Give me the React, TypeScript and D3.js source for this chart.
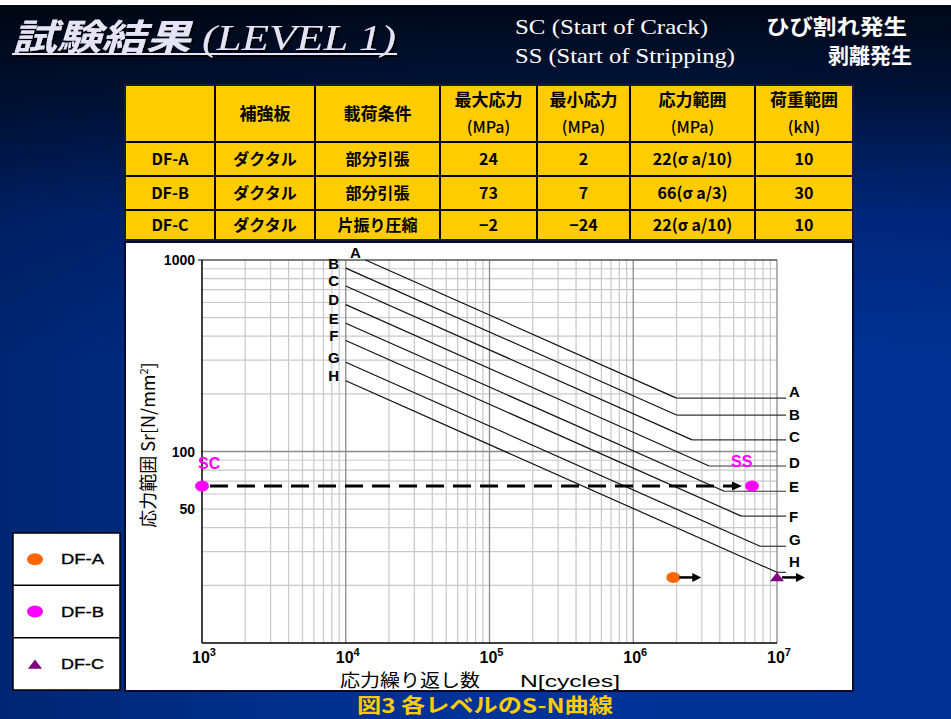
import React from 'react';
import * as d3 from 'd3';

const W = 951;
const H = 719;

// S-N curve classes (JSSC): fatigue strength at 2e6 cycles & cut-off limits [N/mm2]
const curveNames = ['A', 'B', 'C', 'D', 'E', 'F', 'G', 'H'];
const strengthAt2e6 = [190, 155, 125, 100, 80, 65, 50, 40];
const cutoffLimit = [190, 155, 115, 84, 62, 46, 32, 23];
const rightLabelDy = [-7, 0, -3, -3, -5, 1, -7, -11];

// test results
const seriesNames = ['DF-A', 'DF-B', 'DF-C'];
const seriesColors = ['#FF6600', '#FF00FF', '#800080'];
const seriesStress = [22, 66, 22];
const seriesCycles = [1.9e6, 6.7e6, 1e7];
const dfbCrackCycles = 1e3;

const xTickValues = [1e3, 1e4, 1e5, 1e6, 1e7];
const xTickExp = ['3', '4', '5', '6', '7'];
const yTickValues = [1000, 100, 50];

const tableHeader = [
  ['', ''],
  ['補強板', ''],
  ['載荷条件', ''],
  ['最大応力', '(MPa)'],
  ['最小応力', '(MPa)'],
  ['応力範囲', '(MPa)'],
  ['荷重範囲', '(kN)'],
];
const tableRows = [
  ['DF-A', 'ダクタル', '部分引張', '24', '2', '22(σ a/10)', '10'],
  ['DF-B', 'ダクタル', '部分引張', '73', '7', '66(σ a/3)', '30'],
  ['DF-C', 'ダクタル', '片振り圧縮', '−2', '−24', '22(σ a/10)', '10'],
];

const colEdges = [125, 215, 315, 440, 537, 630, 755, 853];
const rowEdges = [85, 142, 176, 210, 240];

const JP = "'Noto Sans CJK JP', 'Noto Sans', sans-serif";
const SANS = "'Liberation Sans', Arial, sans-serif";
const SERIF = "'Liberation Serif', 'DejaVu Serif', serif";

export default function App() {
  const x = d3.scaleLog().domain([1e3, 1e7]).range([202, 777]);
  const y = d3.scaleLog().domain([10, 1000]).range([643, 260]);

  const xMinor: number[] = [];
  for (let e = 3; e < 7; e++) for (let k = 2; k <= 9; k++) xMinor.push(k * Math.pow(10, e));
  const yMinor: number[] = [];
  for (let e = 1; e < 3; e++) for (let k = 2; k <= 9; k++) yMinor.push(k * Math.pow(10, e));

  const line = d3.line<[number, number]>().x((d) => x(d[0])).y((d) => y(d[1]));
  const xEnd = x(1e7) + 9;

  const curves = curveNames.map((name, i) => {
    const s2 = strengthAt2e6[i];
    const nTop = 2e6 * Math.pow(s2 / 1000, 3);
    const n0 = Math.max(1e4, nTop);
    const s0 = s2 * Math.pow(2e6 / n0, 1 / 3);
    let nc = 2e6 * Math.pow(s2 / cutoffLimit[i], 3);
    let sc = cutoffLimit[i];
    if (nc > 1e7) {
      nc = 1e7;
      sc = s2 * Math.pow(2e6 / 1e7, 1 / 3);
    }
    return { name, n0, s0, nc, sc, i };
  });

  const arrow = (x1: number, x2: number, yy: number, w = 2.5, head = 9) => (
    <g>
      <line x1={x1} x2={x2 - head + 1} y1={yy} y2={yy} stroke="#000" strokeWidth={w} />
      <path d={`M${x2 - head},${yy - 4.5}L${x2},${yy}L${x2 - head},${yy + 4.5}Z`} fill="#000" />
    </g>
  );

  const tri = (cx: number, cy: number, s: number) =>
    `M${cx},${cy - s * 0.75}L${cx + s},${cy + s * 0.55}L${cx - s},${cy + s * 0.55}Z`;

  return (
    <div style={{ position: 'absolute', left: 0, top: 0, width: W, height: H }}>
      <svg width={W} height={H} style={{ display: 'block' }}>
        <defs>
          <linearGradient id="bg" x1="0" y1="0" x2="0" y2="1">
            <stop offset="0" stopColor="#000816" />
            <stop offset="0.12" stopColor="#001238" />
            <stop offset="0.3" stopColor="#002880" />
            <stop offset="0.5" stopColor="#003399" />
            <stop offset="1" stopColor="#003399" />
          </linearGradient>
          <linearGradient id="bgh" x1="0" y1="0" x2="1" y2="0">
            <stop offset="0" stopColor="#000000" stopOpacity="0.25" />
            <stop offset="0.5" stopColor="#000000" stopOpacity="0" />
            <stop offset="1" stopColor="#000000" stopOpacity="0.05" />
          </linearGradient>
          <filter id="shadow" x="-5%" y="-20%" width="110%" height="140%">
            <feDropShadow dx="2" dy="2" stdDeviation="0.6" floodColor="#000" floodOpacity="1" />
          </filter>
        </defs>
        <rect x={0} y={0} width={W} height={H} fill="url(#bg)" />
        <rect x={0} y={0} width={W} height={H} fill="url(#bgh)" />
        <rect x={0} y={0} width={W} height={5} fill="#fff" />

        {/* Title */}
        <g filter="url(#shadow)">
          <text x={12} y={50} fontSize={36} fontStyle="italic" fill="#E4E4F8" textLength={384} lengthAdjust="spacingAndGlyphs">
            <tspan fontFamily={JP} fontWeight={700}>試験結果</tspan>
            <tspan fontFamily={SERIF}> (LEVEL 1)</tspan>
          </text>
          <line x1={12} x2={397} y1={54} y2={54} stroke="#E4E4F8" strokeWidth={2} />
        </g>
        <text x={515} y={34} fontSize={21} fontFamily={SERIF} fill="#fff" textLength={193} lengthAdjust="spacingAndGlyphs">SC (Start of Crack)</text>
        <text x={515} y={63} fontSize={21} fontFamily={SERIF} fill="#fff" textLength={220} lengthAdjust="spacingAndGlyphs">SS (Start of Stripping)</text>
        <text x={766} y={34} fontSize={21} fontFamily={JP} fontWeight={700} fill="#fff" textLength={141} lengthAdjust="spacingAndGlyphs">ひび割れ発生</text>
        <text x={912} y={63} fontSize={21} fontFamily={JP} fontWeight={700} fill="#fff" textAnchor="end">剥離発生</text>

        {/* Table */}
        <g>
          <rect x={colEdges[0]} y={rowEdges[0]} width={colEdges[7] - colEdges[0]} height={rowEdges[4] - rowEdges[0]} fill="#FFCC00" stroke="#1a1a40" strokeWidth={2} />
          {colEdges.slice(1, -1).map((cx) => (
            <line key={cx} x1={cx} x2={cx} y1={rowEdges[0]} y2={rowEdges[4]} stroke="#000" strokeWidth={2} />
          ))}
          {rowEdges.slice(1, -1).map((ry) => (
            <line key={ry} x1={colEdges[0]} x2={colEdges[7]} y1={ry} y2={ry} stroke="#000" strokeWidth={2} />
          ))}
          {tableHeader.map((h, c) => {
            const cx = (colEdges[c] + colEdges[c + 1]) / 2;
            const cy = (rowEdges[0] + rowEdges[1]) / 2;
            return h[1] ? (
              <g key={c} fontFamily={JP} fill="#000" textAnchor="middle">
                <text x={cx} y={cy - 8} fontSize={17} fontWeight={700}>{h[0]}</text>
                <text x={cx} y={cy + 19} fontSize={16} fontWeight={500}>{h[1]}</text>
              </g>
            ) : (
              <text key={c} x={cx} y={cy + 6} fontSize={17} fontFamily={JP} fontWeight={700} textAnchor="middle">{h[0]}</text>
            );
          })}
          {tableRows.map((row, r) =>
            row.map((cell, c) => (
              <text
                key={`${r}-${c}`}
                x={(colEdges[c] + colEdges[c + 1]) / 2}
                y={(rowEdges[r + 1] + rowEdges[r + 2]) / 2 + 6}
                fontSize={16}
                fontFamily={JP}
                fontWeight={700}
                textAnchor="middle"
                fill="#000"
              >
                {cell}
              </text>
            ))
          )}
        </g>

        {/* Chart panel */}
        <rect x={125} y={242} width={728} height={449} fill="#fff" stroke="#0a0a30" strokeWidth={2} />

        {/* grid */}
        <g>
          {xMinor.map((v) => (
            <line key={`xm${v}`} x1={x(v)} x2={x(v)} y1={y(1000)} y2={y(10)} stroke="#c8c8c8" strokeWidth={1.2} />
          ))}
          {yMinor.map((v) => (
            <line key={`ym${v}`} x1={x(1e3)} x2={x(1e7)} y1={y(v)} y2={y(v)} stroke="#c8c8c8" strokeWidth={1.2} />
          ))}
          {[1e4, 1e5, 1e6, 1e7].map((v) => (
            <line key={`xM${v}`} x1={x(v)} x2={x(v)} y1={y(1000)} y2={y(10)} stroke="#8c8c8c" strokeWidth={1.3} />
          ))}
          <line x1={x(1e3)} x2={x(1e7)} y1={y(100)} y2={y(100)} stroke="#8c8c8c" strokeWidth={1.3} />
          <line x1={x(1e3) - 4} x2={x(1e7)} y1={y(1000)} y2={y(1000)} stroke="#555" strokeWidth={1.3} />
          <line x1={x(1e3)} x2={x(1e3)} y1={y(1000)} y2={y(10)} stroke="#000" strokeWidth={1.5} />
          <line x1={x(1e3)} x2={x(1e7)} y1={y(10)} y2={y(10)} stroke="#000" strokeWidth={1.5} />
        </g>

        {/* y ticks */}
        {yTickValues.map((v) => (
          <text key={v} x={x(1e3) - 7} y={y(v) + 5} fontSize={14} fontFamily={SANS} fontWeight={700} textAnchor="end">{v}</text>
        ))}
        {/* x ticks */}
        {xTickValues.map((v, i) => (
          <text key={v} x={x(v) - 10} y={663} fontFamily={SANS} fontWeight={700}>
            <tspan fontSize={16}>10</tspan>
            <tspan fontSize={11} dy={-7}>{xTickExp[i]}</tspan>
          </text>
        ))}

        {/* axis titles */}
        <text transform="translate(155,445) rotate(-90)" fontSize={18} fontFamily={JP} textAnchor="middle" fill="#000">
          <tspan>応力範囲  Sr[N/mm</tspan>
          <tspan fontSize={11} dy={-7}>2</tspan>
          <tspan dy={7}>]</tspan>
        </text>
        <text x={340} y={687} fontSize={18} fontFamily={JP} fill="#000" textLength={140} lengthAdjust="spacingAndGlyphs">応力繰り返し数</text>
        <text x={520} y={687} fontSize={17} fontFamily={SANS} fill="#000" textLength={100} lengthAdjust="spacingAndGlyphs">N[cycles]</text>

        {/* S-N curves */}
        <g>
          {curves.map((c) => (
            <g key={c.name}>
              <path
                d={line([[c.n0, c.s0], [c.nc, c.sc]]) || ''}
                fill="none"
                stroke="#111"
                strokeWidth={1.2}
              />
              <line x1={x(c.nc)} x2={xEnd} y1={y(c.sc)} y2={y(c.sc)} stroke="#333" strokeWidth={1.2} />
              <text
                x={c.name === 'A' ? x(c.n0) - 10 : x(c.n0) - 12}
                y={c.name === 'A' ? y(c.s0) - 7 : y(c.s0) - 5}
                dy="0.36em"
                fontSize={15}
                fontFamily={SANS}
                fontWeight={700}
                textAnchor="middle"
              >
                {c.name}
              </text>
              <text x={xEnd + 3} y={y(c.sc) + rightLabelDy[c.i]} dy="0.36em" fontSize={15} fontFamily={SANS} fontWeight={700}>
                {c.name}
              </text>
            </g>
          ))}
        </g>

        {/* DF-B: crack start -> stripping */}
        <line
          x1={x(dfbCrackCycles) + 8}
          x2={x(seriesCycles[1]) - 18}
          y1={y(seriesStress[1])}
          y2={y(seriesStress[1])}
          stroke="#000"
          strokeWidth={3}
          strokeDasharray="18 9"
        />
        <path
          d={`M${x(seriesCycles[1]) - 20},${y(seriesStress[1]) - 4.5}L${x(seriesCycles[1]) - 10},${y(seriesStress[1])}L${x(seriesCycles[1]) - 20},${y(seriesStress[1]) + 4.5}Z`}
          fill="#000"
        />
        <ellipse cx={x(dfbCrackCycles)} cy={y(seriesStress[1])} rx={7} ry={5.5} fill={seriesColors[1]} />
        <ellipse cx={x(seriesCycles[1])} cy={y(seriesStress[1])} rx={7} ry={5.5} fill={seriesColors[1]} />
        <text x={x(dfbCrackCycles) - 4} y={y(seriesStress[1]) - 17} fontSize={16} fontFamily={SANS} fontWeight={700} fill={seriesColors[1]}>SC</text>
        <text x={x(seriesCycles[1]) - 21} y={y(seriesStress[1]) - 19} fontSize={16} fontFamily={SANS} fontWeight={700} fill={seriesColors[1]}>SS</text>

        {/* DF-A */}
        <ellipse cx={x(seriesCycles[0])} cy={y(seriesStress[0])} rx={7} ry={5.5} fill={seriesColors[0]} />
        {arrow(x(seriesCycles[0]) + 6, x(seriesCycles[0]) + 28, y(seriesStress[0]))}
        {/* DF-C */}
        {arrow(x(seriesCycles[2]) + 5, x(seriesCycles[2]) + 28, y(seriesStress[2]))}
        <path d={tri(x(seriesCycles[2]), y(seriesStress[2]), 7)} fill={seriesColors[2]} />

        {/* Legend */}
        <g>
          <rect x={13} y={533} width={107} height={157} fill="#fff" stroke="#000" strokeWidth={1.5} />
          {seriesNames.map((n, i) => {
            const ry = 533 + (i * 157) / 3;
            const cy = ry + 157 / 6;
            return (
              <g key={n}>
                {i > 0 && <line x1={13} x2={120} y1={ry} y2={ry} stroke="#000" strokeWidth={1.5} />}
                {i < 2 ? (
                  <ellipse cx={35} cy={cy} rx={8} ry={6} fill={seriesColors[i]} />
                ) : (
                  <path d={tri(35, cy + 1, 7)} fill={seriesColors[i]} />
                )}
                <text x={61} y={cy + 5} fontSize={15} fontFamily={SANS} fill="#000" stroke="#000" strokeWidth={0.35} textLength={43} lengthAdjust="spacingAndGlyphs">{n}</text>
              </g>
            );
          })}
        </g>

        {/* caption */}
        <text x={485} y={713} fontSize={20} fontFamily={JP} fontWeight={700} fill="#FFCC00" textAnchor="middle" textLength={256} lengthAdjust="spacingAndGlyphs">図3 各レベルのS-N曲線</text>
      </svg>
    </div>
  );
}
